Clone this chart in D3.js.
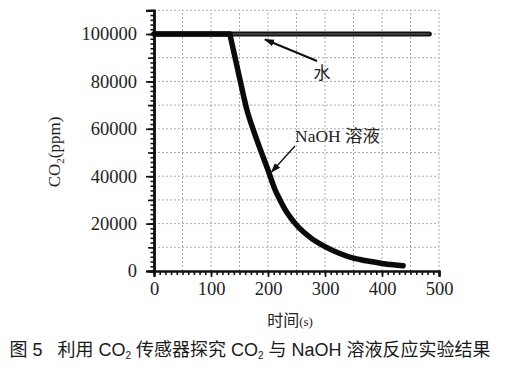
<!DOCTYPE html>
<html><head><meta charset="utf-8">
<script src="https://cdn.jsdelivr.net/npm/d3@7"></script>
<style>
body{margin:0;background:#fff;}
svg{display:block;}
</style></head>
<body>
<script>
const waterT = [0, 483];
const waterV = [100000, 100000];
const naohT = [0, 133, 151, 163, 175, 187, 200, 212, 221, 235, 250, 275, 300, 325, 350, 375, 400, 420, 437];
const naohV = [100000, 100000, 80500, 68000, 59000, 51000, 42600, 34500, 30000, 24000, 19400, 14000, 10300, 7500, 5400, 4200, 3200, 2600, 2200];
const xTicks = [0, 100, 200, 300, 400, 500];
const yTicks = [0, 20000, 40000, 60000, 80000, 100000];
const xTitle = "时间";
const yTitle = "CO";
const caption = ["图 5\u00a0\u00a0 利用 CO", "2", " 传感器探究 CO", "2", " 与 NaOH 溶液反应实验结果"];
const labelWater = "水";
const labelNaoh = "NaOH 溶液";

const W = 509, H = 378;
const svg = d3.select("body").append("svg").attr("width", W).attr("height", H);
const x = d3.scaleLinear().domain([0, 500]).range([154, 439]);
const y = d3.scaleLinear().domain([0, 110000]).range([271, 10.3]);
const serif = "'Liberation Serif','Times New Roman',serif";

// grid
const g = svg.append("g");
g.selectAll("line.vg").data(d3.range(50, 501, 50)).join("line")
  .attr("x1", d => x(d)).attr("x2", d => x(d)).attr("y1", y(0)).attr("y2", y(110000))
  .attr("stroke", "#aaa").attr("stroke-width", 1).attr("stroke-dasharray", "2,2");
g.selectAll("line.hg").data(d3.range(10000, 110001, 10000)).join("line")
  .attr("y1", d => y(d)).attr("y2", d => y(d)).attr("x1", x(0)).attr("x2", x(500))
  .attr("stroke", "#aaa").attr("stroke-width", 1).attr("stroke-dasharray", "2,2");

// y axis
const yAxisMinor = d3.axisLeft(y).tickValues(d3.range(0, 110001, 2000)).tickSize(3.5).tickFormat("");
const yAxisMid = d3.axisLeft(y).tickValues(d3.range(0, 110001, 10000)).tickSize(6).tickFormat("");
const yAxis = d3.axisLeft(y).tickValues(yTicks).tickSize(8).tickPadding(9).tickFormat(d3.format("d"));
[yAxisMinor, yAxisMid, yAxis].forEach(a => {
  const ga = svg.append("g").attr("transform", `translate(${x(0)},0)`).call(a);
  ga.attr("font-family", serif).attr("font-size", 18.5);
  ga.select(".domain").attr("stroke", "#111").attr("stroke-width", 2.2);
  ga.selectAll(".tick line").attr("stroke", "#111").attr("stroke-width", 1.6);
  ga.selectAll("text").attr("font-family", serif).attr("font-size", 18.5).attr("fill", "#222");
});
// x axis
const xAxisMinor = d3.axisBottom(x).tickValues(d3.range(0, 501, 10)).tickSize(4).tickFormat("");
const xAxis = d3.axisBottom(x).tickValues(xTicks).tickSize(6).tickPadding(5).tickFormat(d3.format("d"));
[xAxisMinor, xAxis].forEach(a => {
  const ga = svg.append("g").attr("transform", `translate(0,${y(0)})`).call(a);
  ga.attr("font-family", serif).attr("font-size", 18.5);
  ga.select(".domain").attr("stroke", "#111").attr("stroke-width", 2.2);
  ga.selectAll(".tick line").attr("stroke", "#111").attr("stroke-width", 1.6);
  ga.selectAll("text").attr("font-family", serif).attr("font-size", 18.5).attr("fill", "#222");
});

// lines
const water = waterT.map((t, i) => [t, waterV[i]]);
const naoh = naohT.map((t, i) => [t, naohV[i]]);
const lin = d3.line().x(d => x(d[0])).y(d => y(d[1]));
const smooth = d3.line().x(d => x(d[0])).y(d => y(d[1])).curve(d3.curveMonotoneX);
svg.append("path").datum(water).attr("d", lin).attr("fill", "none")
  .attr("stroke", "#111").attr("stroke-width", 5).attr("stroke-linecap", "round");
svg.append("path").datum(water).attr("d", lin).attr("fill", "none")
  .attr("stroke", "#666").attr("stroke-width", 1.2);
// flat part straight, decay part smooth (starting at the break point)
const naohPath = lin(naoh.slice(0, 2)) + smooth(naoh.slice(1)).replace(/^M/, "L");
svg.append("path").attr("d", naohPath)
  .attr("fill", "none").attr("stroke", "#0a0a0a").attr("stroke-width", 5.5)
  .attr("stroke-linecap", "round").attr("stroke-linejoin", "round");

// arrows
const defs = svg.append("defs");
defs.append("marker").attr("id", "ah").attr("viewBox", "0 0 10 10").attr("refX", 9).attr("refY", 5)
  .attr("markerWidth", 10).attr("markerHeight", 10).attr("markerUnits", "userSpaceOnUse").attr("orient", "auto")
  .append("path").attr("d", "M0,1.5 L10,5 L0,8.5 Z").attr("fill", "#111");
svg.append("line").attr("x1", 317).attr("y1", 61).attr("x2", 265).attr("y2", 39.5)
  .attr("stroke", "#111").attr("stroke-width", 2).attr("marker-end", "url(#ah)");
svg.append("line").attr("x1", 295).attr("y1", 146).attr("x2", 271.5).attr("y2", 172)
  .attr("stroke", "#111").attr("stroke-width", 1.3).attr("marker-end", "url(#ah)");

svg.append("text").attr("x", 322).attr("y", 79).attr("text-anchor", "middle")
  .attr("font-family", "'Noto Sans CJK SC'").attr("font-size", 17).attr("fill", "#222").text(labelWater);
svg.append("text").attr("x", 295).attr("y", 141.5)
  .attr("font-family", serif + ",'Noto Sans CJK SC'").attr("font-size", 17.5).attr("fill", "#222").text(labelNaoh);

// y title
const yt = svg.append("text").attr("transform", "translate(60,152) rotate(-90)").attr("text-anchor", "middle")
  .attr("font-family", serif).attr("font-size", 17).attr("fill", "#222");
yt.append("tspan").text(yTitle);
yt.append("tspan").attr("font-size", 11).attr("dy", 4).text("2");
yt.append("tspan").attr("dy", -4).text("(ppm)");

// x title
const xt = svg.append("text").attr("x", 290).attr("y", 326).attr("text-anchor", "middle")
  .attr("font-family", "'Noto Sans CJK SC'").attr("font-size", 16).attr("fill", "#222");
xt.append("tspan").text(xTitle);
xt.append("tspan").attr("font-family", serif).attr("font-size", 13).text("(s)");

// caption
const cap = svg.append("text").attr("x", 250).attr("y", 356).attr("text-anchor", "middle")
  .attr("font-family", "'Liberation Sans','Noto Sans CJK SC',sans-serif").attr("font-size", 18).attr("fill", "#1a1a1a");
caption.forEach((s, i) => {
  const t = cap.append("tspan").text(s);
  if (i === 1 || i === 3) t.attr("font-size", 10).attr("dy", 3);
  else if (i > 0) t.attr("dy", -3);
});
</script>
</body></html>
